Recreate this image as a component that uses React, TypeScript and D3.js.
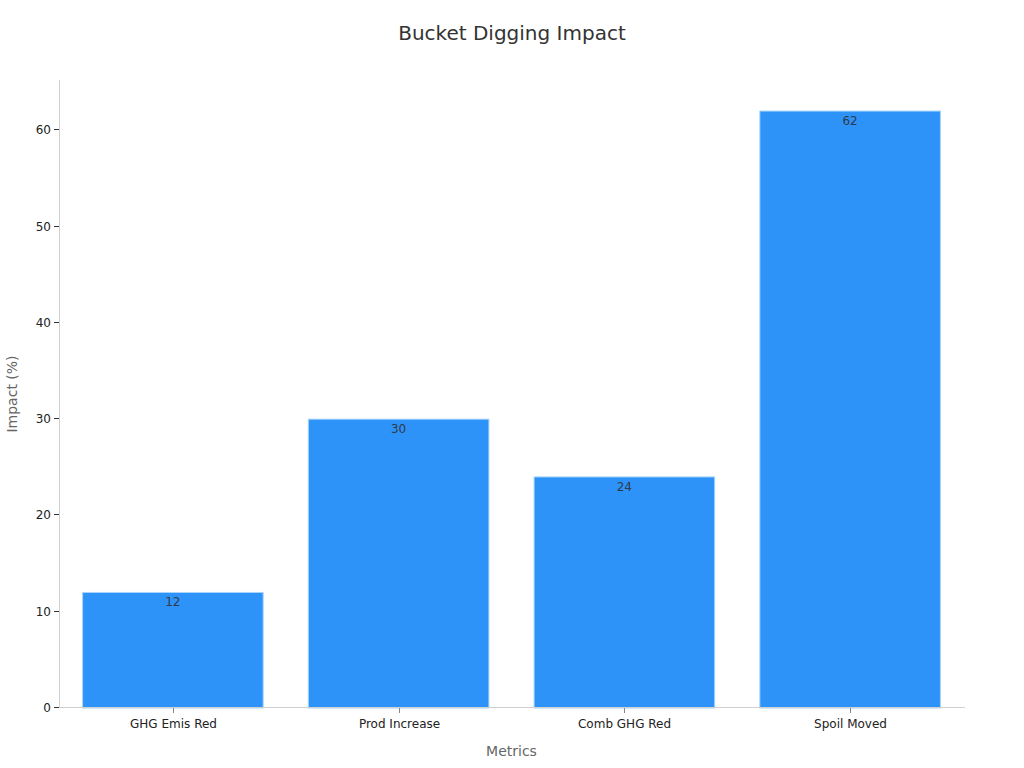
import { useEffect, useRef } from 'react';
import * as d3 from 'd3';

const categories = ['GHG Emis Red', 'Prod Increase', 'Comb GHG Red', 'Spoil Moved'];
const impactValues = [12, 30, 24, 62];
const yTicks = [0, 10, 20, 30, 40, 50, 60];

const WIDTH = 1024;
const HEIGHT = 768;

export default function App() {
  const svgRef = useRef<SVGSVGElement | null>(null);

  useEffect(() => {
    if (!svgRef.current) return;
    const svg = d3.select(svgRef.current);
    svg.selectAll('*').remove();

    const margin = { top: 80, right: 61, bottom: 60, left: 60 };
    const bottom = HEIGHT - margin.bottom;
    const font = 'DejaVu Sans, sans-serif';

    const x = d3
      .scaleBand<string>()
      .domain(categories)
      .range([margin.left, WIDTH - margin.right])
      .paddingInner(0.2)
      .paddingOuter(0.1);

    const y = d3
      .scaleLinear()
      .domain([0, (d3.max(impactValues) ?? 0) * 1.052])
      .range([bottom, margin.top]);

    svg.append('rect').attr('width', WIDTH).attr('height', HEIGHT).attr('fill', '#ffffff');

    // title
    svg
      .append('text')
      .attr('x', WIDTH / 2)
      .attr('y', 40)
      .attr('text-anchor', 'middle')
      .attr('font-family', font)
      .attr('font-size', 20)
      .attr('fill', '#333333')
      .text('Bucket Digging Impact');

    // bars
    svg
      .append('g')
      .selectAll('rect')
      .data(impactValues)
      .enter()
      .append('rect')
      .attr('x', (_, i) => x(categories[i]) ?? 0)
      .attr('y', (v) => y(v))
      .attr('width', x.bandwidth())
      .attr('height', (v) => bottom - y(v))
      .attr('fill', '#2e93f8')
      .attr('stroke', '#a9d4fb')
      .attr('stroke-width', 1);

    // value labels
    svg
      .append('g')
      .selectAll('text')
      .data(impactValues)
      .enter()
      .append('text')
      .attr('x', (_, i) => (x(categories[i]) ?? 0) + x.bandwidth() / 2)
      .attr('y', (v) => y(v) + 14)
      .attr('text-anchor', 'middle')
      .attr('font-family', font)
      .attr('font-size', 12)
      .attr('fill', '#2f3a4a')
      .text((v) => v);

    // y axis
    const yAxis = svg.append('g');
    yAxis
      .append('line')
      .attr('x1', margin.left - 0.5)
      .attr('x2', margin.left - 0.5)
      .attr('y1', margin.top)
      .attr('y2', bottom)
      .attr('stroke', '#d0d0d0');
    const yTick = yAxis
      .selectAll('g')
      .data(yTicks)
      .enter()
      .append('g')
      .attr('transform', (v) => `translate(0,${Math.round(y(v)) - 0.5})`);
    yTick
      .append('line')
      .attr('x1', margin.left - 6)
      .attr('x2', margin.left - 1)
      .attr('stroke', '#333333');
    yTick
      .append('text')
      .attr('x', margin.left - 9)
      .attr('dy', '0.35em')
      .attr('text-anchor', 'end')
      .attr('font-family', font)
      .attr('font-size', 12)
      .attr('fill', '#222222')
      .text((v) => v);

    // x axis
    const xAxis = svg.append('g');
    xAxis
      .append('line')
      .attr('x1', margin.left)
      .attr('x2', WIDTH - margin.right + 2)
      .attr('y1', bottom - 0.5)
      .attr('y2', bottom - 0.5)
      .attr('stroke', '#d0d0d0');
    const xTick = xAxis
      .selectAll('g')
      .data(categories)
      .enter()
      .append('g')
      .attr('transform', (c) => `translate(${Math.round((x(c) ?? 0) + x.bandwidth() / 2) + 0.5},${bottom})`);
    xTick.append('line').attr('y1', 0).attr('y2', 5).attr('stroke', '#888888');
    xTick
      .append('text')
      .attr('y', 20)
      .attr('text-anchor', 'middle')
      .attr('font-family', font)
      .attr('font-size', 12)
      .attr('fill', '#222222')
      .text((c) => c);

    // axis titles
    svg
      .append('text')
      .attr('x', (margin.left + WIDTH - margin.right) / 2)
      .attr('y', 756)
      .attr('text-anchor', 'middle')
      .attr('font-family', font)
      .attr('font-size', 14)
      .attr('fill', '#666666')
      .text('Metrics');

    svg
      .append('text')
      .attr('transform', `translate(17,${(margin.top + bottom) / 2}) rotate(-90)`)
      .attr('text-anchor', 'middle')
      .attr('font-family', font)
      .attr('font-size', 14)
      .attr('fill', '#666666')
      .text('Impact (%)');
  }, []);

  return (
    <svg
      ref={svgRef}
      width={WIDTH}
      height={HEIGHT}
      viewBox={`0 0 ${WIDTH} ${HEIGHT}`}
      style={{ position: 'absolute', left: 0, top: 0, display: 'block' }}
    />
  );
}
